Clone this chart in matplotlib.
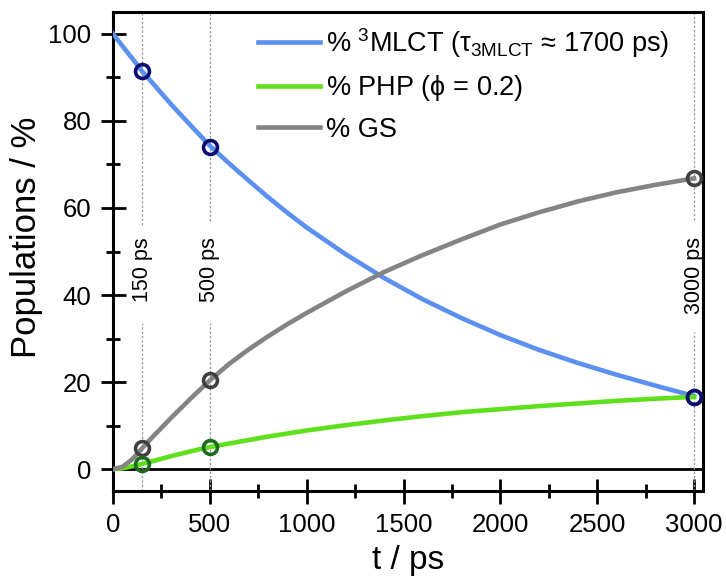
#!/usr/bin/env python3

"""
Population kinetics after excitation: 3MLCT decay, photoproduct (PHP)
growth and ground state (GS) recovery, with markers at three delay times.
"""

import matplotlib

matplotlib.use("Agg")
import matplotlib.pyplot as plt
from matplotlib.ticker import MultipleLocator

# time grid (ps) and populations (%)
t_ps = [0, 50, 100, 150, 200, 300, 400, 500, 600, 700, 800, 900, 1000,
        1200, 1400, 1600, 1800, 2000, 2200, 2400, 2600, 2800, 3000]
mlct = [100.0, 97.1, 94.3, 91.4, 88.9, 83.8, 79.0, 74.3, 70.2, 66.3, 62.5,
        58.9, 55.5, 49.4, 43.9, 39.0, 34.7, 30.8, 27.4, 24.4, 21.7, 19.2, 16.8]
php = [0.0, 0.2, 0.7, 1.2, 1.8, 3.0, 4.1, 5.1, 5.9, 6.7, 7.5, 8.2, 8.9,
       10.1, 11.2, 12.2, 13.1, 13.8, 14.5, 15.1, 15.7, 16.2, 16.6]
gs = [0.0, 0.6, 2.3, 4.8, 7.2, 11.8, 16.2, 20.4, 24.2, 27.5, 30.5, 33.3,
      35.9, 40.8, 45.3, 49.2, 52.8, 56.2, 59.0, 61.5, 63.6, 65.3, 66.8]

# delay times that are marked on the curves
mark_t = [150, 500, 3000]
mark_mlct = [91.4, 74.1, 16.6]
mark_php = [1.2, 5.1, 16.6]
mark_gs = [4.8, 20.4, 66.8]
mark_labels = ["150 ps", "500 ps", "3000 ps"]

legend_labels = [
    r"% $^{3}$MLCT ($\tau_{\mathrm{3MLCT}}$ ≈ 1700 ps)",
    r"% PHP ($\phi$ = 0.2)",
    "% GS",
]

BLUE = "#5b8ff0"
GREEN = "#5ee01c"
GREY = "#848484"

plt.rcParams["font.family"] = ["Liberation Sans", "DejaVu Sans"]
plt.rcParams["mathtext.fontset"] = "custom"
plt.rcParams["mathtext.rm"] = "Liberation Sans"
plt.rcParams["mathtext.it"] = "Liberation Sans"


def plot_populations():
    fig = plt.figure(figsize=(7.26, 5.79), dpi=100)
    ax = fig.add_axes([113 / 726, 1 - 491 / 579, 590 / 726, 479 / 579])

    # dotted guides at the marked delays, broken around the labels
    gaps = [(33.5, 56.0), (33.5, 57.0), (31.5, 57.3)]
    for t, lab, (lo, hi) in zip(mark_t, mark_labels, gaps):
        ax.vlines(t, -5, lo, color="#9a9a9a", lw=0.9, linestyles=(0, (2, 1.5)))
        ax.vlines(t, hi, 105, color="#9a9a9a", lw=0.9, linestyles=(0, (2, 1.5)))
        ax.text(t, 53.3, lab, rotation=90, ha="center", va="top", fontsize=15.5)

    ax.axhline(0, color="black", lw=2.0, zorder=1)

    ax.plot(t_ps, mlct, color=BLUE, lw=3.3, label=legend_labels[0], zorder=3)
    ax.plot(t_ps, php, color=GREEN, lw=3.3, label=legend_labels[1], zorder=3)
    ax.plot(t_ps, gs, color=GREY, lw=3.3, label=legend_labels[2], zorder=3)

    mk = dict(ls="none", marker="o", ms=10, mew=2.6, mfc="none", zorder=4)
    ax.plot(mark_t, mark_gs, mec="#404040", **mk)
    ax.plot(mark_t, mark_php, mec="#1d6b1d", **mk)
    ax.plot(mark_t, mark_mlct, mec="#0c0c70", **mk)

    ax.set_xlim(0, 3046)
    ax.set_ylim(-5, 105)
    ax.xaxis.set_major_locator(MultipleLocator(500))
    ax.xaxis.set_minor_locator(MultipleLocator(250))
    ax.yaxis.set_major_locator(MultipleLocator(20))
    ax.yaxis.set_minor_locator(MultipleLocator(10))
    ax.tick_params(which="both", direction="inout", width=2.0, labelsize=18.5,
                   top=False, right=False)
    ax.tick_params(which="major", length=18, pad=6.5)
    ax.tick_params(which="minor", length=10)
    for sp in ax.spines.values():
        sp.set_linewidth(2.2)

    ax.set_xlabel("t / ps", fontsize=24)
    ax.set_ylabel("Populations / %", fontsize=25)
    ax.xaxis.set_label_coords(0.5, -0.112)
    ax.yaxis.set_label_coords(-0.118, 0.53)

    fig.legend(loc="upper left", bbox_to_anchor=(258 / 726, 1 - 26 / 579),
               frameon=False, fontsize=19.5, handlelength=2.3,
               handletextpad=0.2, labelspacing=0.5, borderpad=0,
               borderaxespad=0)
    return fig


def main():
    fig = plot_populations()
    fig.savefig("out.png", dpi=100)


if __name__ == "__main__":
    main()
